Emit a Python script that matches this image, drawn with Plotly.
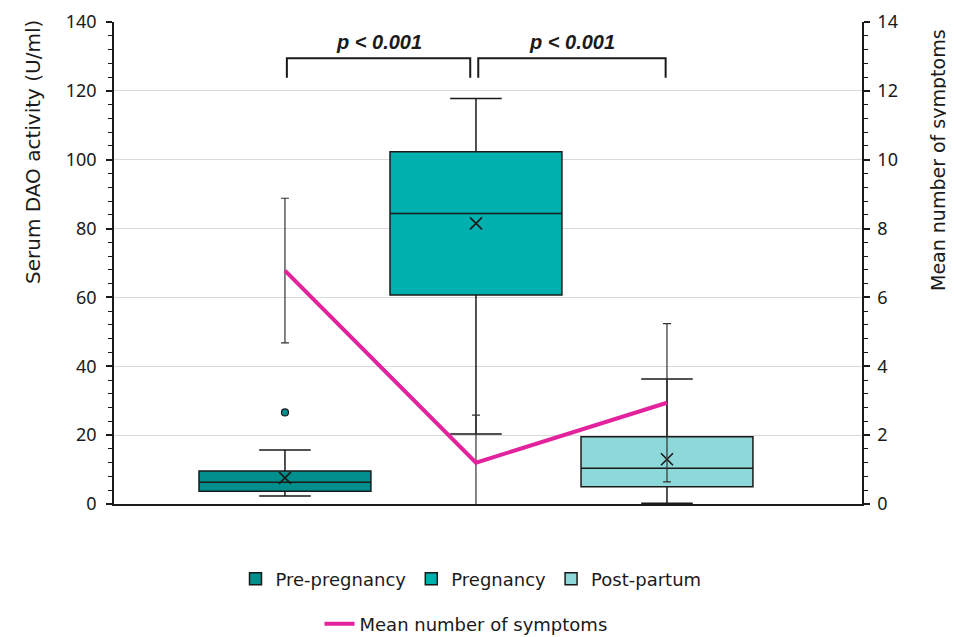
import plotly.graph_objects as go

# ---- data ----
groups = ["Pre-pregnancy", "Pregnancy", "Post-partum"]
positions = [0, 1, 2]
q1 = [3.7, 60.7, 5.0]
median = [6.3, 84.4, 10.4]
q3 = [9.6, 102.3, 19.5]
lower_fence = [2.3, 20.3, 0.2]
upper_fence = [15.7, 117.8, 36.3]
means = [7.6, 81.5, 13.0]
outlier_x = [0]
outlier_y = [26.6]
box_colors = ["#008F8C", "#00B0AE", "#8DD8D8"]

symptoms_mean = [6.78, 1.2, 2.94]
symptoms_err = [2.1, 1.38, 2.3]

p_labels = ["<b><i>p < 0.001</i></b>", "<b><i>p < 0.001</i></b>"]

FONT = "'DejaVu Sans', 'Noto Sans', sans-serif"
TICKFONT = "'Noto Sans', 'Open Sans', sans-serif"
INK = "#1a1a1a"

fig = go.Figure()

for i, g in enumerate(groups):
    fig.add_trace(go.Box(
        x=[positions[i]], q1=[q1[i]], median=[median[i]], q3=[q3[i]],
        lowerfence=[lower_fence[i]], upperfence=[upper_fence[i]],
        name=g, width=0.9, whiskerwidth=0.3, boxpoints=False,
        fillcolor=box_colors[i], line=dict(color=INK, width=1.5),
        legend="legend", showlegend=True, hoverinfo="skip",
    ))

# outlier
fig.add_trace(go.Scatter(
    x=outlier_x, y=outlier_y, mode="markers", showlegend=False,
    marker=dict(size=7, color=box_colors[0], line=dict(color=INK, width=1.2)),
))

# means
fig.add_trace(go.Scatter(
    x=positions, y=means, mode="markers", showlegend=False,
    marker=dict(symbol="x-thin", size=12, line=dict(color=INK, width=1.6)),
))

# symptoms line
fig.add_trace(go.Scatter(
    x=positions, y=symptoms_mean, mode="lines", yaxis="y2",
    name="Mean number of symptoms", legend="legend2",
    line=dict(color="#E3239D", width=4),
    error_y=dict(type="data", array=symptoms_err, symmetric=True,
                 color="#333333", thickness=1.2, width=4),
    cliponaxis=False,
))

# significance brackets
br_top = 129.5
br_bot = 123.8
brackets = [(positions[0] + 0.01, positions[1] - 0.03), (positions[1] + 0.012, positions[2] - 0.007)]
for (xa, xb), lab in zip(brackets, p_labels):
    fig.add_shape(type="path",
                  path=f"M {xa} {br_bot} L {xa} {br_top} L {xb} {br_top} L {xb} {br_bot}",
                  xref="x", yref="y", line=dict(color=INK, width=2))
    fig.add_annotation(x=(xa + xb) / 2, y=br_top, yshift=16, text=lab, showarrow=False,
                       xref="x", yref="y",
                       font=dict(family="Liberation Sans, Arial, sans-serif", size=20, color=INK))

# axis titles
fig.add_annotation(text="Serum DAO activity (U/ml)", textangle=-90, xref="paper", yref="paper",
                   x=(33 - 114) / 748, y=(504 - 152) / 482, xanchor="center", yanchor="middle",
                   showarrow=False, font=dict(family=FONT, size=20, color=INK))
fig.add_annotation(text="Mean number of symptoms", textangle=-90, xref="paper", yref="paper",
                   x=(938 - 114) / 748, y=(504 - 160) / 482, xanchor="center", yanchor="middle",
                   showarrow=False, font=dict(family=FONT, size=19, color=INK))

fig.update_layout(
    width=946, height=629,
    margin=dict(l=106, r=92, t=14, b=133, autoexpand=False),
    paper_bgcolor="white", plot_bgcolor="white",
    font=dict(family=FONT, size=18, color=INK),
    xaxis=dict(range=[-0.895, 3.021], showticklabels=False, ticks="", showgrid=False,
               zeroline=False, showline=True, linecolor=INK, linewidth=1.5),
    yaxis=dict(range=[0, 140], dtick=20, tick0=0, showgrid=True, gridcolor="#d9d9d9", gridwidth=1,
               zeroline=False, showline=True, linecolor=INK, linewidth=1.5,
               ticks="outside", ticklen=6, tickwidth=1.5, tickcolor=INK, ticklabelstandoff=6,
               minor=dict(dtick=4, ticks="outside", ticklen=4, tickwidth=1, tickcolor=INK, showgrid=False),
               tickfont=dict(family=TICKFONT, size=18)),
    yaxis2=dict(range=[0, 14], dtick=2, tick0=0, overlaying="y", side="right", showgrid=False,
                zeroline=False, showline=True, linecolor=INK, linewidth=1.5,
                ticks="outside", ticklen=6, tickwidth=1.5, tickcolor=INK, ticklabelstandoff=4,
                minor=dict(dtick=0.4, ticks="outside", ticklen=4, tickwidth=1, tickcolor=INK),
                tickfont=dict(family=TICKFONT, size=18)),
    legend=dict(orientation="h", x=(471 - 114) / 748, xanchor="center", y=(504 - 579) / 482,
                yanchor="middle", font=dict(size=18), bgcolor="rgba(0,0,0,0)", itemwidth=30),
    legend2=dict(orientation="h", x=(466 - 114) / 748, xanchor="center", y=(504 - 624) / 482,
                 yanchor="middle", font=dict(size=18), bgcolor="rgba(0,0,0,0)"),
    showlegend=True,
)

fig.write_html("out.html")
